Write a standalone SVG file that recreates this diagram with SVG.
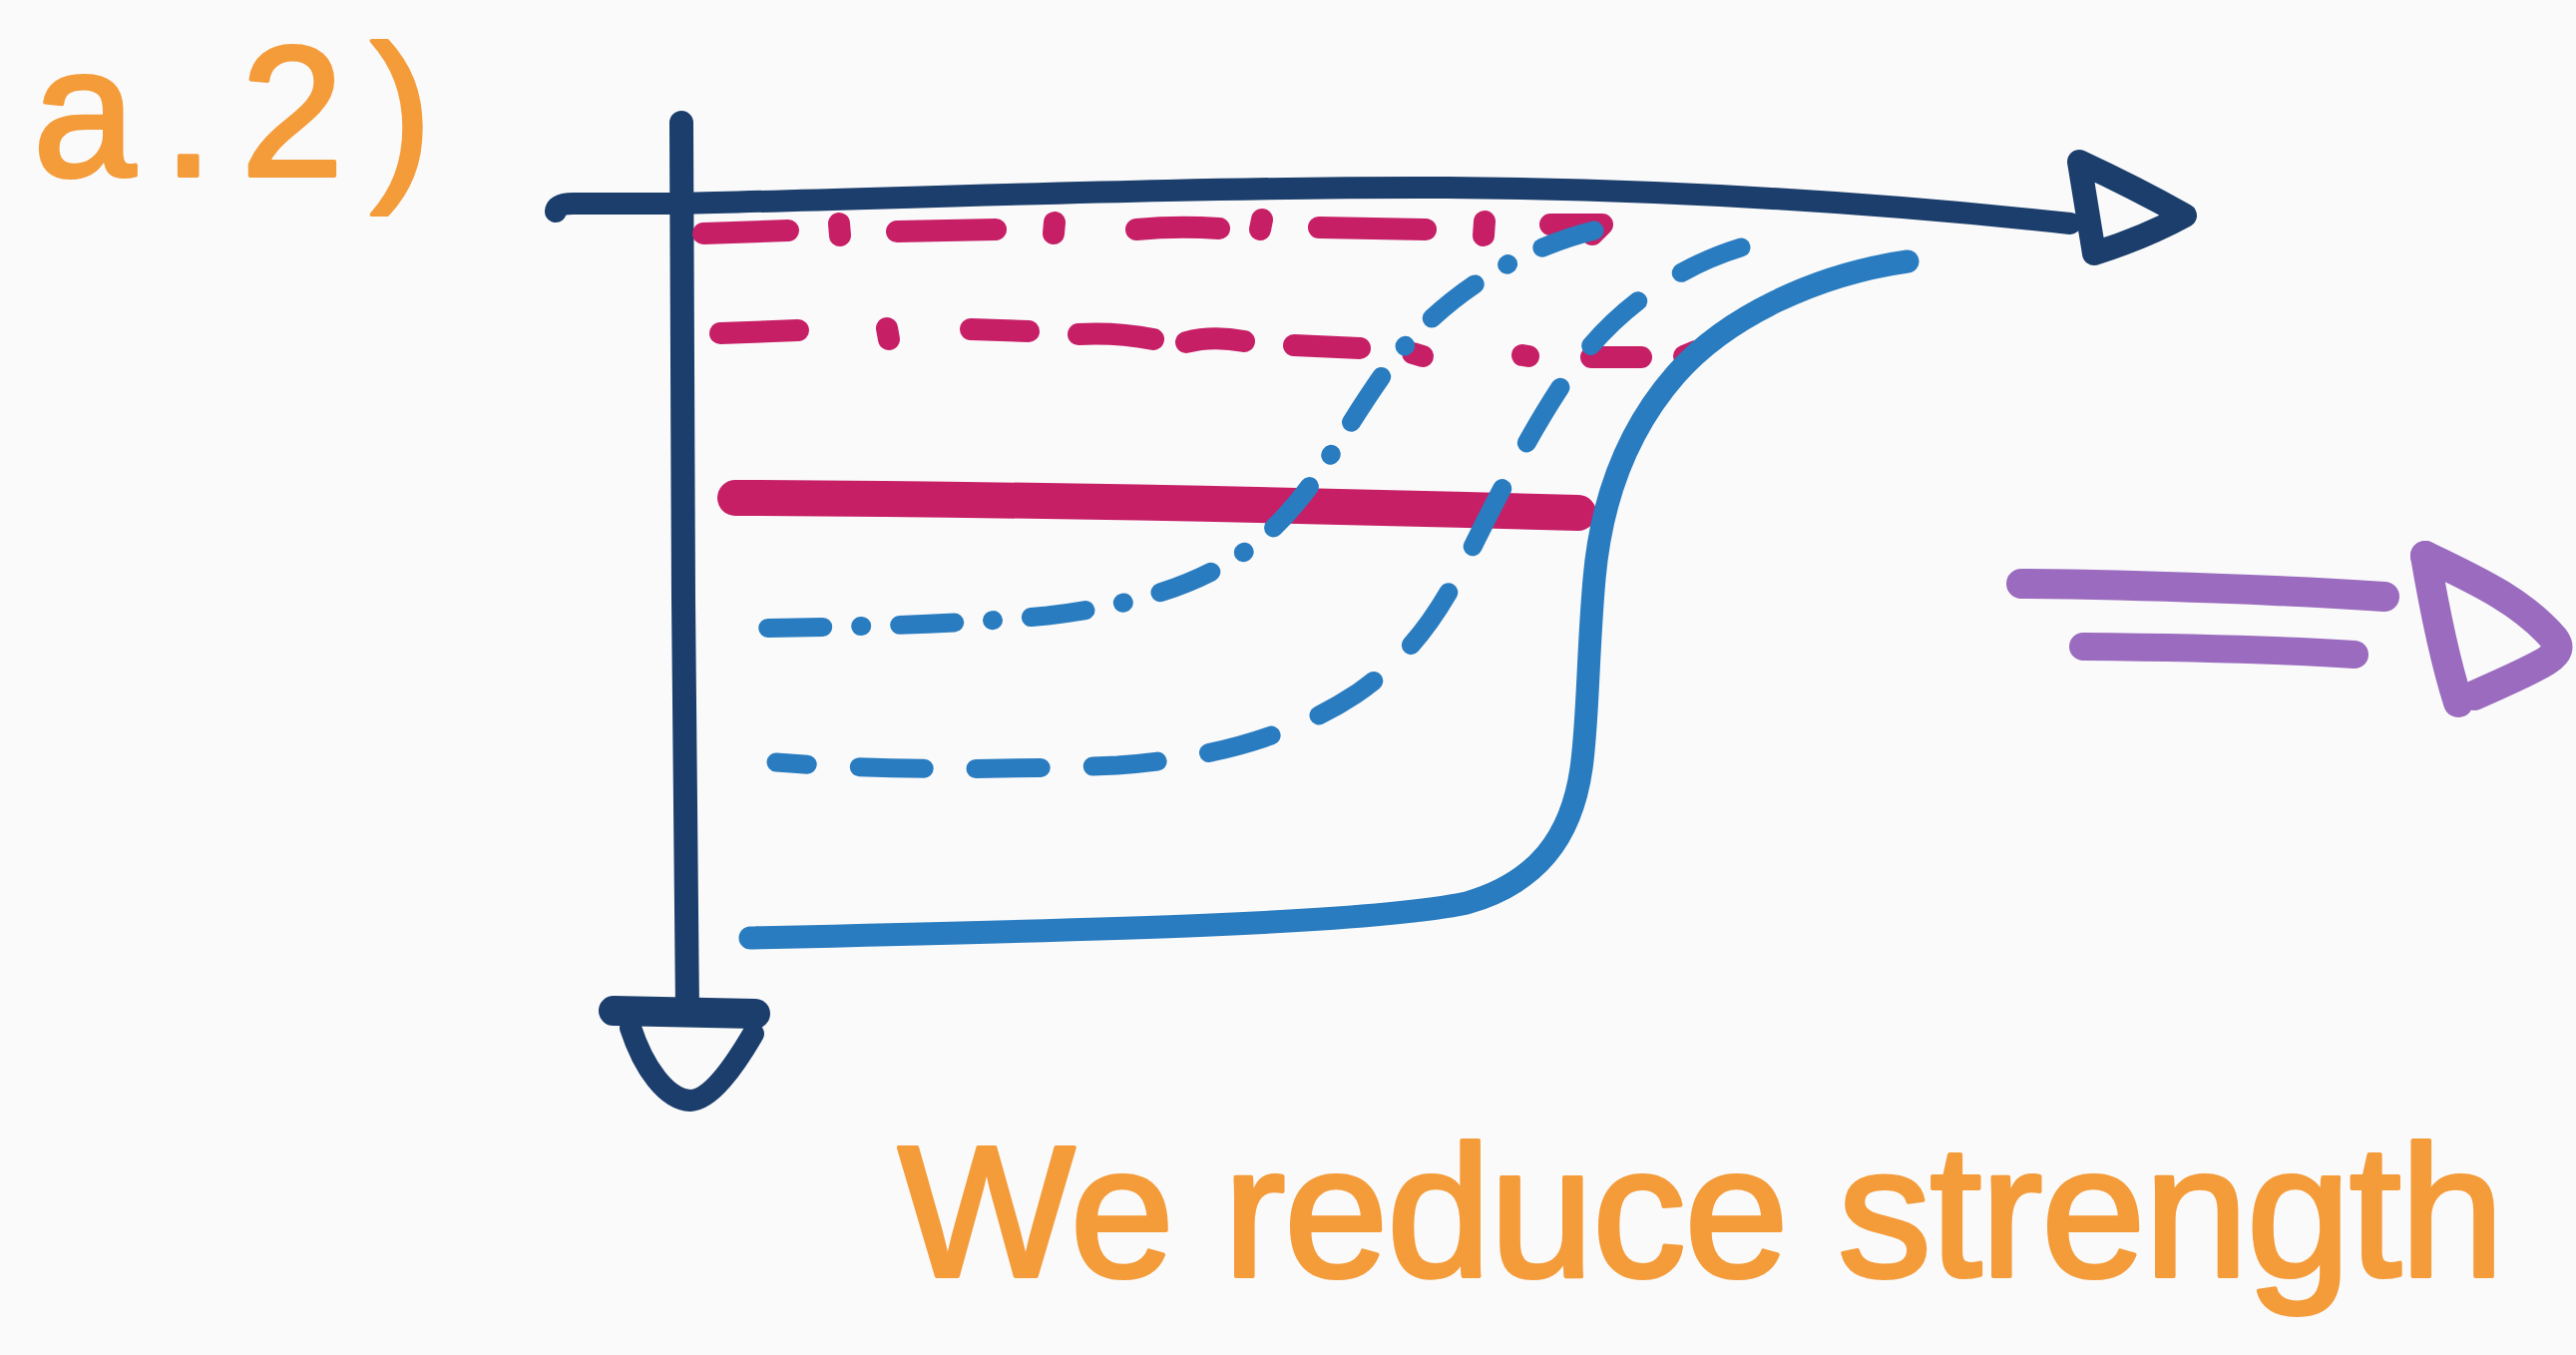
<svg xmlns="http://www.w3.org/2000/svg" width="2582" height="1358" viewBox="0 0 2582 1358">
<style>
.nv{fill:none;stroke:#1B3E6C;stroke-linecap:round;stroke-linejoin:round}
.pk{fill:none;stroke:#C61F66;stroke-linecap:round;stroke-linejoin:round}
.bl{fill:none;stroke:#2A7CC0;stroke-linecap:round;stroke-linejoin:round}
.pu{fill:none;stroke:#9A6BBE;stroke-linecap:round;stroke-linejoin:round}
.or{fill:#F49B3A;stroke:#F49B3A;stroke-width:4;stroke-linejoin:round;font-family:"Liberation Sans",Arial,sans-serif}
</style>
<rect width="2582" height="1358" fill="#FAFAFA"/>
<g id="label-a2">
<text class="or" x="33" y="176" font-size="185" textLength="400" lengthAdjust="spacing">a.2)</text>
</g>
<g id="axes">
<path class="nv" stroke-width="22" d="M557,212 Q558,204 575,204 L680,204 C900,199 1200,187 1450,188 C1700,190 1900,205 2075,224"/>
<path class="nv" stroke-width="24" d="M2084,162 L2099,254 Q2150,238 2190,216 Q2140,188 2084,162 Z"/>
<path class="nv" stroke-width="24" d="M683,123 L685,600 L689,1014"/>
<path class="nv" stroke-width="30" d="M615,1013 L757,1016"/>
<path class="nv" stroke-width="22" d="M632,1030 C645,1070 668,1102 692,1103 C712,1102 735,1070 755,1036"/>
</g>
<g id="pink-lines">
<g id="pink-dashdot" stroke-width="22" class="pk">
<path class="pk" d="M705,234 L790,231"/>
<path class="pk" d="M841,224 L842,236"/>
<path class="pk" d="M899,232 L998,230"/>
<path class="pk" d="M1057,223 L1056,234"/>
<path class="pk" d="M1139,230 Q1180,226 1222,229"/>
<path class="pk" d="M1265,220 L1263,230"/>
<path class="pk" d="M1322,228 L1429,230"/>
<path class="pk" d="M1488,222 L1487,236"/>
<path class="pk" d="M1554,225 L1606,225 L1596,235"/>
</g>
<g id="pink-dashed" stroke-width="22" class="pk">
<path class="pk" d="M722,334 L800,331"/>
<path class="pk" d="M889,329 L891,340"/>
<path class="pk" d="M973,330 L1031,332"/>
<path class="pk" d="M1081,335 Q1120,333 1156,340"/>
<path class="pk" d="M1189,343 Q1215,336 1247,342"/>
<path class="pk" d="M1297,346 L1363,349"/>
<path class="pk" d="M1416,354 L1426,357"/>
<path class="pk" d="M1526,356 L1532,357"/>
<path class="pk" d="M1595,358 L1645,358"/>
<path class="pk" d="M1688,357 L1700,352"/>
</g>
<path id="pink-solid" class="pk" stroke-width="36" d="M737,499 C1000,500 1300,506 1582,514"/>
</g>
<g id="blue-curves">
<path id="blue-solid" class="bl" stroke-width="23" d="M1912,262 C1820,275 1730,318 1680,375 C1630,432 1605,500 1598,580 C1591,660 1592,720 1585,770 C1575,840 1540,885 1470,905 C1370,926 1100,932 752,940"/>
<path id="blue-dashed" class="bl" stroke-width="19" stroke-dasharray="65 52" d="M1745,248 C1680,268 1620,310 1580,365 C1540,420 1505,490 1470,560 C1440,620 1410,660 1360,695 C1300,735 1220,760 1120,767 C1000,772 880,772 778,764"/>
<path id="blue-dashdot" class="bl" stroke-width="19" stroke-dasharray="55 38 1 38" d="M1598,231 C1520,250 1440,300 1390,370 C1340,440 1320,490 1270,535 C1220,580 1150,605 1050,617 C950,627 850,628 733,630"/>
</g>
<g id="implies-arrow">
<path class="pu" stroke-width="30" d="M2026,585 C2150,586 2300,592 2390,598"/>
<path class="pu" stroke-width="28" d="M2088,648 C2200,649 2300,652 2360,656"/>
<path class="pu" stroke-width="30" d="M2431,557 C2440,610 2450,660 2464,704"/>
<path class="pu" stroke-width="30" d="M2431,557 C2490,585 2530,605 2560,640 C2572,656 2555,664 2480,697"/>
</g>
<g id="caption">
<text class="or" x="900" y="1279" font-size="188" textLength="1610" lengthAdjust="spacing">We reduce strength</text>
</g>
</svg>
